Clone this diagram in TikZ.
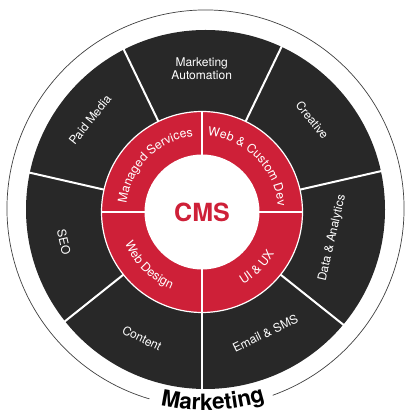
\documentclass[tikz,border=0pt]{standalone}
\usepackage{fontspec}
\setmainfont{TeX Gyre Heros}
\usetikzlibrary{decorations.text}
\definecolor{cmsred}{RGB}{206,32,56}
\definecolor{segdark}{RGB}{40,40,40}
\begin{document}
\begin{tikzpicture}[x=1pt,y=1pt,
  seglabel/.style={text=white, font=\fontsize{12}{13.4}\selectfont, align=center, inner sep=0pt},
  sepline/.style={draw=white, line width=2pt},
  ringtext/.style={decorate, decoration={text along path, text align=center, text color=white, text={#1}}}
]
\useasboundingbox (0,0) rectangle (414,419);
\coordinate (rc) at (202,207);
\coordinate (dc) at (205.5,209.5);
\coordinate (oc) at (205.5,210.5);

% outer dark ring
\fill[segdark] (dc) circle[radius=179.5];
\foreach \a in {-90,-38.57,12.86,64.29,115.71,167.14,218.57}
  \draw[sepline] (rc) -- ++(\a:186);

% red ring
\fill[cmsred] (rc) circle[radius=100.5];
\draw[white, line width=1.2pt] (rc) circle[radius=100.5];
\foreach \a in {0,90,180,270}
  \draw[sepline] (rc) -- ++(\a:100.5);
\fill[white] (rc) circle[radius=57.5];

\node[text=cmsred, font=\bfseries\fontsize{25}{25}\selectfont] (cms) at (rc) {CMS};

% ring labels
\path[ringtext={|\fontsize{12.3}{12}\selectfont|Managed Services}] (rc) ++(180:76) arc[start angle=180, end angle=90, radius=76];
\path[ringtext={|\fontsize{12.3}{12}\selectfont|Web {\&} Custom Dev}] (rc) ++(90:76) arc[start angle=90, end angle=0, radius=76];
\path[ringtext={|\fontsize{12.3}{12}\selectfont|Web Design}] (rc) ++(180:83) arc[start angle=180, end angle=270, radius=83];
\path[ringtext={|\fontsize{12.3}{12}\selectfont|UI {\&} UX}] (rc) ++(270:83) arc[start angle=270, end angle=360, radius=83];

% dark segment labels
\node[seglabel] (ma) at (201.7,350) {Marketing\\Automation};
\node[seglabel, rotate=-51.43] (cr) at (312.3,299) {Creative};
\node[seglabel, rotate=51.43] (pm) at (90,299) {Paid Media};
\node[seglabel, rotate=77.14] (da) at (332.3,180.7) {Data \& Analytics};
\node[seglabel, rotate=25.71] (es) at (265.3,85.7) {Email \& SMS};
\node[seglabel, rotate=-25.71] (co) at (142,80.7) {Content};
\node[seglabel, rotate=-77.14] (seo) at (64,177) {SEO};

% outer thin circle with gap
\draw[black!75, line width=0.7pt] (oc) ++(289.8:198.5) arc[start angle=289.8, end angle=613.6, radius=198.5];
\path[decorate, decoration={text along path, text align=center, text={|\bfseries\fontsize{22.5}{22.5}\selectfont|Marketing}}] (oc) ++(250:201.5) arc[start angle=250, end angle=294.4, radius=201.5];
\end{tikzpicture}
\end{document}
